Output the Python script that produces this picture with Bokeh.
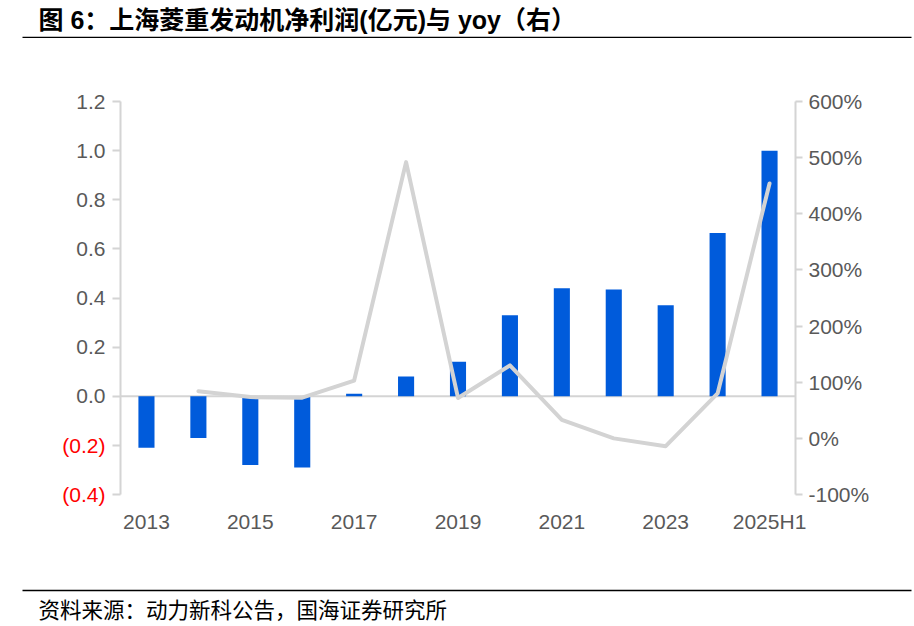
import numpy as np
from bokeh.plotting import figure
from bokeh.models import (FactorRange, Range1d, LinearAxis, FixedTicker,
                          NumeralTickFormatter, CustomJSTickFormatter, Span,
                          ColumnDataSource)
from bokeh.layouts import column
from bokeh.core.properties import value
from bokeh.embed import file_html
from bokeh.resources import INLINE

# ---------------- data ----------------
categories = ["2013", "2014", "2015", "2016", "2017", "2018", "2019",
              "2020", "2021", "2022", "2023", "2024", "2025H1"]
net_profit = [-0.21, -0.17, -0.28, -0.29, 0.01, 0.08, 0.14,
              0.33, 0.44, 0.435, 0.37, 0.665, 1.00]
yoy = [np.nan, 0.84, 0.735, 0.725, 1.03, 4.92, 0.72,
       1.30, 0.33, 0.00, -0.14, 0.80, 4.54]
left_ticks_pos = [0.0, 0.2, 0.4, 0.6, 0.8, 1.0, 1.2]
left_ticks_neg = [-0.4, -0.2]
right_ticks = [-1, 0, 1, 2, 3, 4, 5, 6]
x_labels_shown = ["2013", "2015", "2017", "2019", "2021", "2023", "2025H1"]

title_text = "图 6：上海菱重发动机净利润(亿元)与 yoy（右）"
source_text = "资料来源：动力新科公告，国海证券研究所"

W = 914
AX_COLOR = "#D4D4D4"
LBL_COLOR = "#595959"
TICK_FONT = "Liberation Sans"
TICK_SIZE = "21px"


def no_align(fig):
    try:
        fig.frame_align = False
    except Exception:
        pass


# ---------------- title strip ----------------
top = figure(width=W, height=38, x_range=Range1d(0, W), y_range=Range1d(0, 38),
             x_axis_location=None, y_axis_location=None, min_border=0,
             output_backend="svg", toolbar_location=None)
no_align(top)
top.outline_line_color = None
top.grid.visible = False
top.text(x=[38], y=[19], text=[title_text], text_font=value("Liberation Sans, Noto Sans CJK SC"),
         text_font_size="25px", text_font_style="bold", text_color="#000000",
         text_baseline="middle", text_align="left")
top.line(x=[22, 911], y=[1, 1], line_color="#000000", line_width=1.6)

# ---------------- main chart ----------------
src = ColumnDataSource(dict(cat=categories, profit=net_profit, yoy=yoy))

p = figure(x_range=FactorRange(factors=categories, range_padding=0),
           y_range=Range1d(-0.4, 1.2),
           frame_width=675, frame_height=393,
           min_border_left=120, min_border_right=119,
           min_border_top=63, min_border_bottom=86,
           output_backend="svg", toolbar_location=None)
no_align(p)
p.outline_line_color = None
p.grid.visible = False
p.background_fill_color = "white"

p.extra_y_ranges = {"yoy": Range1d(-1, 6)}

zero = Span(location=0, dimension="width", line_color=AX_COLOR, line_width=2, level="underlay")
p.add_layout(zero)

p.vbar(x="cat", top="profit", width=0.31, source=src, fill_color="#005BDB", line_color=None)
p.line(x="cat", y="yoy", source=src, y_range_name="yoy", line_color="#D3D3D3",
       line_width=4, line_cap="round", line_join="round")

# left axis (line, ticks and non-negative labels)
ya = p.yaxis[0]
ya.ticker = FixedTicker(ticks=left_ticks_neg + left_ticks_pos)
ya.formatter = CustomJSTickFormatter(code="return tick < -1e-9 ? '' : tick.toFixed(1);")
ya.axis_line_color = AX_COLOR
ya.axis_line_width = 2
ya.major_tick_line_color = AX_COLOR
ya.major_tick_line_width = 2
ya.major_tick_out = 8
ya.major_tick_in = 0
ya.minor_tick_line_color = None
ya.major_label_standoff = 7
ya.major_label_text_font = TICK_FONT
ya.major_label_text_font_size = TICK_SIZE
ya.major_label_text_color = LBL_COLOR

# red negative labels, drawn by a second left axis pulled onto the same column
ya2 = LinearAxis(ticker=FixedTicker(ticks=left_ticks_neg),
                 formatter=CustomJSTickFormatter(code="return '(' + Math.abs(tick).toFixed(1) + ')';"))
ya2.axis_line_color = None
ya2.major_tick_line_color = None
ya2.minor_tick_line_color = None
ya2.major_tick_out = 0
ya2.major_tick_in = 0
ya2.major_label_standoff = -32
ya2.major_label_text_font = TICK_FONT
ya2.major_label_text_font_size = TICK_SIZE
ya2.major_label_text_color = "#FF0000"
p.add_layout(ya2, "left")

# right axis
ra = LinearAxis(y_range_name="yoy", ticker=FixedTicker(ticks=right_ticks),
                formatter=NumeralTickFormatter(format="0%"))
ra.axis_line_color = AX_COLOR
ra.axis_line_width = 2
ra.major_tick_line_color = AX_COLOR
ra.major_tick_line_width = 2
ra.major_tick_out = 7
ra.major_tick_in = 0
ra.minor_tick_line_color = None
ra.major_label_standoff = 6
ra.major_label_text_font = TICK_FONT
ra.major_label_text_font_size = TICK_SIZE
ra.major_label_text_color = LBL_COLOR
p.add_layout(ra, "right")

# x axis
xa = p.xaxis[0]
xa.axis_line_color = None
xa.major_tick_line_color = None
xa.minor_tick_line_color = None
xa.major_label_standoff = 9
xa.major_label_text_font = TICK_FONT
xa.major_label_text_font_size = TICK_SIZE
xa.major_label_text_color = LBL_COLOR
xa.formatter = CustomJSTickFormatter(args=dict(shown=x_labels_shown),
                                     code="return shown.includes(tick) ? tick : '';")

# ---------------- source strip ----------------
bot = figure(width=W, height=46, x_range=Range1d(0, W), y_range=Range1d(0, 46),
             x_axis_location=None, y_axis_location=None, min_border=0,
             output_backend="svg", toolbar_location=None)
no_align(bot)
bot.outline_line_color = None
bot.grid.visible = False
bot.line(x=[22, 911], y=[36, 36], line_color="#000000", line_width=1.6)
bot.text(x=[38], y=[18], text=[source_text], text_font=value("Noto Sans CJK SC"),
         text_font_size="21.5px", text_color="#000000",
         text_baseline="middle", text_align="left")

layout = column(top, p, bot, spacing=0)
open("out.html", "w").write(file_html(layout, INLINE))
